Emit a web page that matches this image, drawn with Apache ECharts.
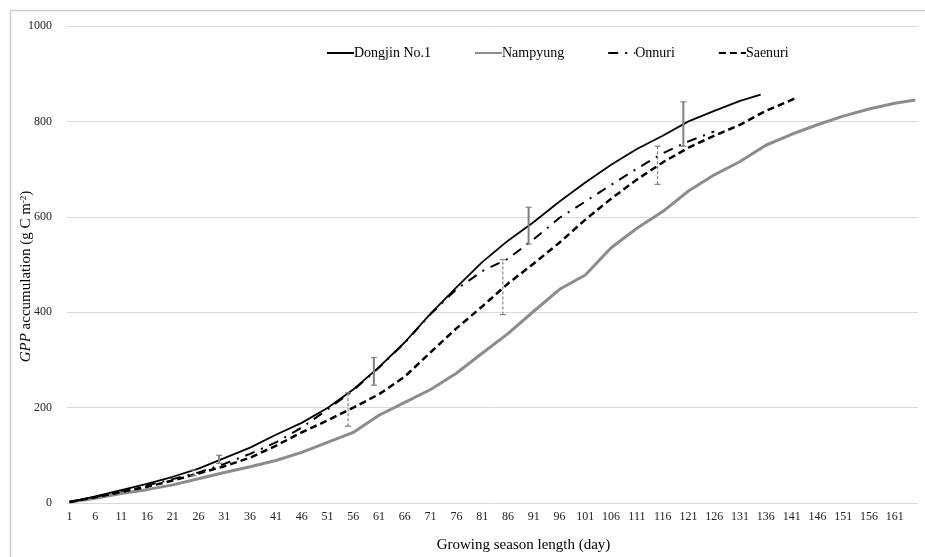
<!DOCTYPE html>
<html>
<head>
<meta charset="utf-8">
<script src="https://cdn.jsdelivr.net/npm/echarts@6/dist/echarts.min.js"></script>
<style>
  html, body { margin: 0; padding: 0; background: #fff; }
  #chart { width: 925px; height: 557px; }
</style>
</head>
<body>
<div id="chart"></div>
<script>
// days 1..165 on the category axis
const days = Array.from({ length: 165 }, (_, i) => String(i + 1));

const dongjinDays = [1, 6, 11, 16, 21, 26, 31, 36, 41, 46, 51, 56, 61, 66, 71, 76, 81, 86, 91, 96, 101, 106, 111, 116, 121, 126, 131, 135];
const dongjin = [2, 14, 27, 40, 55, 72, 94, 116, 143, 168, 199, 238, 285, 337, 397, 452, 505, 550, 589, 632, 672, 709, 742, 770, 800, 822, 843, 856];

const onnuriDays = [1, 6, 11, 16, 21, 26, 31, 36, 41, 46, 51, 56, 61, 66, 71, 76, 81, 86, 91, 96, 101, 106, 111, 116, 121, 126];
const onnuri = [2, 13, 25, 37, 50, 64, 82, 103, 127, 158, 196, 236, 284, 336, 396, 448, 486, 512, 553, 598, 632, 667, 701, 733, 758, 779];

const saenuriDays = [1, 6, 11, 16, 21, 26, 31, 36, 41, 46, 51, 56, 61, 66, 71, 76, 81, 86, 91, 96, 101, 106, 111, 116, 121, 126, 131, 136, 141, 142];
const saenuri = [2, 12, 23, 34, 47, 62, 77, 95, 120, 148, 173, 200, 228, 265, 316, 366, 412, 460, 502, 546, 594, 638, 678, 714, 745, 770, 793, 822, 845, 850];

const nampyungDays = [1, 6, 11, 16, 21, 26, 31, 36, 41, 46, 51, 56, 61, 66, 71, 76, 81, 86, 91, 96, 101, 106, 111, 116, 121, 126, 131, 136, 141, 146, 151, 156, 161, 165];
const nampyung = [2, 10, 20, 28, 38, 51, 64, 76, 89, 106, 127, 148, 184, 211, 238, 272, 314, 355, 402, 448, 478, 535, 576, 611, 654, 688, 716, 750, 773, 793, 811, 826, 838, 845];

// error bars: day, low, high, dashed (1) or solid (0)
const errDays = [25, 30, 55, 60, 85, 90, 115, 120];
const errLow = [57, 83, 161, 247, 395, 543, 668, 748];
const errHigh = [69, 100, 231, 305, 510, 620, 748, 841];
const errDashed = [1, 0, 1, 0, 1, 0, 1, 0];

const FONT = "'Liberation Serif', 'Times New Roman', serif";
const pairs = (d, v) => d.map((x, i) => [String(x), v[i]]);

const chart = echarts.init(document.getElementById('chart'), null, { renderer: 'canvas' });
chart.setOption({
    animation: false,
    backgroundColor: '#fff',
    textStyle: { fontFamily: FONT },
    graphic: [{
        type: 'rect', left: 8, top: 8,
        shape: { width: 990, height: 600 },
        style: { fill: 'none', stroke: '#cfcfcf', lineWidth: 1.5 },
        silent: true
    }],
    legend: {
        data: ['Dongjin No.1', 'Nampyung', 'Onnuri', 'Saenuri'],
        left: 321, top: 41,
        itemWidth: 27, itemHeight: 14, itemGap: 43,
        itemStyle: { opacity: 0 },
        textStyle: { fontFamily: FONT, fontSize: 14, color: '#000', padding: [0, 0, 0, -5] }
    },
    grid: { left: 67, right: 7, top: 26, bottom: 54, outerBoundsMode: 'none', containLabel: false },
    xAxis: {
        type: 'category',
        data: days,
        boundaryGap: true,
        name: 'Growing season length (day)',
        nameLocation: 'middle',
        nameGap: 35,
        nameTextStyle: { fontFamily: FONT, fontSize: 15, color: '#000', padding: [0, 0, 0, 62] },
        axisLine: { lineStyle: { color: '#d9d9d9' } },
        axisTick: { show: false },
        axisLabel: { interval: 4, fontFamily: FONT, fontSize: 12, color: '#222', margin: 8 }
    },
    yAxis: {
        type: 'value',
        min: 0, max: 1000, interval: 200,
        name: '{i|GPP}{n| accumulation (g C m}{s|-2}{n|)}',
        nameLocation: 'middle',
        nameGap: 33,
        nameMoveOverlap: false,
        nameTextStyle: {
            fontFamily: FONT, fontSize: 15, color: '#000', padding: [0, 24, 0, 0],
            rich: {
                i: { fontFamily: FONT, fontSize: 15, fontStyle: 'italic', color: '#000' },
                n: { fontFamily: FONT, fontSize: 15, color: '#000' },
                s: { fontFamily: FONT, fontSize: 9, color: '#000', verticalAlign: 'top', lineHeight: 12 }
            }
        },
        axisLine: { show: false },
        axisTick: { show: false },
        splitLine: { lineStyle: { color: '#d9d9d9', width: 1 } },
        axisLabel: { fontFamily: FONT, fontSize: 12, color: '#222', margin: 15, formatter: v => String(v) }
    },
    series: [
        {
            name: 'Nampyung', type: 'line', data: pairs(nampyungDays, nampyung),
            symbol: 'none', z: 2,
            lineStyle: { color: '#8c8c8c', width: 3 }, itemStyle: { color: '#8c8c8c' }
        },
        {
            name: 'Saenuri', type: 'line', data: pairs(saenuriDays, saenuri),
            symbol: 'none', z: 3,
            lineStyle: { color: '#000', width: 2.5, type: [7, 4] }, itemStyle: { color: '#000' }
        },
        {
            name: 'Onnuri', type: 'line', data: pairs(onnuriDays, onnuri),
            symbol: 'none', z: 4,
            lineStyle: { color: '#000', width: 2, type: [10, 7, 2, 7] }, itemStyle: { color: '#000' }
        },
        {
            name: 'Dongjin No.1', type: 'line', data: pairs(dongjinDays, dongjin),
            symbol: 'none', z: 5,
            lineStyle: { color: '#000', width: 1.8 }, itemStyle: { color: '#000' }
        },
        {
            name: 'error', type: 'custom', z: 6,
            data: errDays.map((d, i) => [String(d), errLow[i], errHigh[i], errDashed[i]]),
            renderItem(params, api) {
                const lo = api.coord([api.value(0), api.value(1)]);
                const hi = api.coord([api.value(0), api.value(2)]);
                const dashed = api.value(3) === 1;
                const x = lo[0];
                const style = { stroke: '#808080', lineWidth: dashed ? 1.2 : 2, lineDash: dashed ? [3, 2] : null };
                const cap = { stroke: '#808080', lineWidth: 1.2 };
                return {
                    type: 'group',
                    children: [
                        { type: 'line', shape: { x1: x, y1: lo[1], x2: x, y2: hi[1] }, style },
                        { type: 'line', shape: { x1: x - 3, y1: lo[1], x2: x + 3, y2: lo[1] }, style: cap },
                        { type: 'line', shape: { x1: x - 3, y1: hi[1], x2: x + 3, y2: hi[1] }, style: cap }
                    ]
                };
            }
        }
    ]
});
</script>
</body>
</html>
